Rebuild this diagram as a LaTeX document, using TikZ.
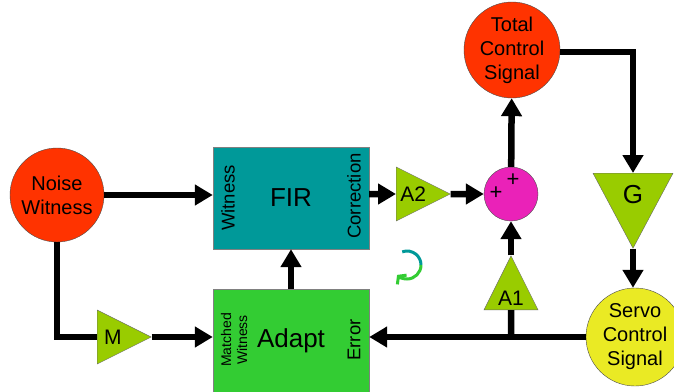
\documentclass[tikz,border=0pt]{standalone}
\usepackage{fontspec}
\setmainfont{Liberation Sans}
\usetikzlibrary{shapes.geometric, arrows.meta, positioning, calc}
\definecolor{noisered}{HTML}{FF3300}
\definecolor{firteal}{HTML}{009999}
\definecolor{adaptgreen}{HTML}{33CC33}
\definecolor{gaingreen}{HTML}{99CC00}
\definecolor{summagenta}{HTML}{EA22B8}
\definecolor{servoyellow}{HTML}{EAEA24}
\tikzset{
  sig/.style={circle, draw=black!70, fill=#1, minimum size=96pt, inner sep=0pt,
    align=center, font=\fontsize{20}{24}\selectfont},
  blockbox/.style={rectangle, draw=black!50, fill=#1, minimum width=156pt,
    minimum height=102pt, font=\fontsize{26}{30}\selectfont},
  gain/.style={isosceles triangle, isosceles triangle stretches, draw=black!60,
    fill=gaingreen, inner sep=0pt, minimum width=54pt, minimum height=54pt,
    shape border rotate=#1, font=\fontsize{21}{24}\selectfont},
  port/.style={rotate=90, align=center, inner sep=0pt, font=\fontsize{18.5}{21}\selectfont},
  wire/.style={line width=6.5pt, >={Triangle[length=18pt,width=20pt]}},
  curl/.style={line width=3pt},
}
\begin{document}
\begin{tikzpicture}[x=1pt, y=-1pt]
        \path[use as bounding box, fill=white] (0,0) rectangle (674,391);

        \node[sig=noisered, minimum size=94pt] (noise) at (57,195) {Noise\\Witness};
        \node[sig=noisered] (total) at (512,50) {Total\\Control\\Signal};
        \node[sig=servoyellow, minimum size=98pt] (servo) at (635,337) {Servo\\Control\\Signal};
        \node[circle, draw=black!70, fill=summagenta, minimum size=54pt] (sum) at (511,194) {};
        \node[font=\fontsize{22}{22}\selectfont] (plusa) at (496,193) {+};
        \node[font=\fontsize{22}{22}\selectfont] (plusb) at (513,180) {+};

        \node[blockbox=firteal] (fir) at (291,198) {FIR};
        \node[port] (firwit) at (228,198) {Witness};
        \node[port] (fircor) at (354,196) {Correction};
        \node[blockbox=adaptgreen, minimum height=104pt] (adapt) at (291,341) {Adapt};
        \node[port, font=\fontsize{14}{16}\selectfont] (adwit) at (234,340) {Matched\\Witness};
        \node[port] (aderr) at (354,340) {Error};

        \node[gain=0, anchor=west] (a2) at (396,194) {A2};
        \node[gain=270, anchor=north, minimum width=80pt, minimum height=75pt,
              font=\fontsize{26}{30}\selectfont] (g) at (633,173) {G};
        \node[gain=90, anchor=south] (a1) at (511,310) {A1};
        \node[gain=0, anchor=west] (m) at (97,337) {M};

        \coordinate (tap) at (sum |- servo);

        \path[wire, ->]
        (noise) edge (noise -| fir.west)
        (fir.east |- a2) edge (a2)
        (a2.apex) edge (sum)
        (sum) edge (total)
        (g.apex) edge (g.apex |- servo.north)
        (a1.apex) edge (sum)
        (adapt) edge (fir)
        (m.apex) edge (m.apex -| adapt.west)
        (servo) edge (servo -| adapt.east)
        ;
        \draw[wire] (noise) |- (m);
        \draw[wire, ->] (total.east |- 0,52) -| (g);
        \draw[wire] (tap) -- (a1);

        \draw[curl, firteal] (407,265) ++(-110:14) arc[start angle=-110, end angle=0, radius=14];
        \draw[curl, adaptgreen, -{Straight Barb[length=5pt, width=13pt]}]
          (407,265) ++(0:14) arc[start angle=0, end angle=135, radius=14];
    \end{tikzpicture}
\end{document}
